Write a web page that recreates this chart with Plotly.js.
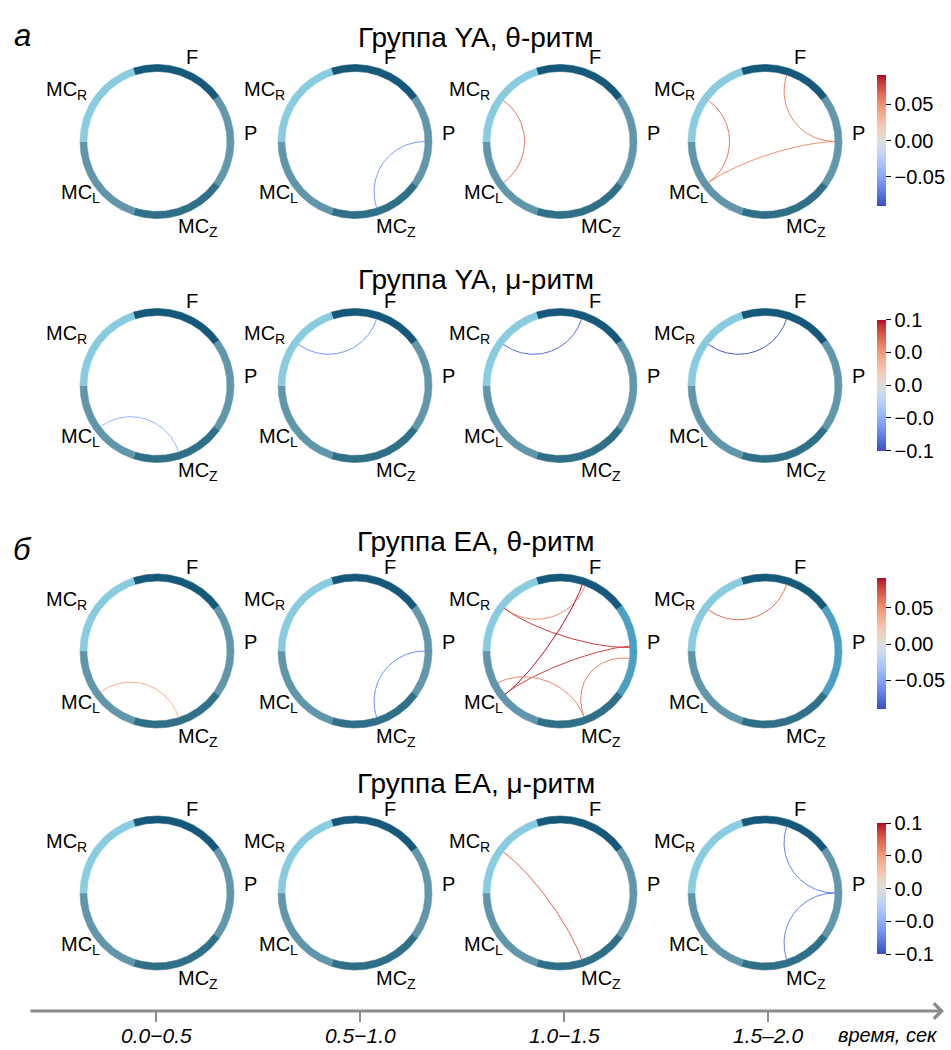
<!DOCTYPE html>
<html>
<head>
<meta charset="utf-8">
<script src="https://cdn.plot.ly/plotly-3.0.1.min.js"></script>
<style>html,body{margin:0;padding:0;background:#fff}</style>
</head>
<body>
<div id="chart" style="width:951px;height:1050px"></div>
<script>
// ---- regions on the ring (counter-clockwise order) ----
const nodes = ['F', 'P', 'MCZ', 'MCL', 'MCR'];
const nodeAngles = [72, 0, -72, -144, 144];          // centre of each region, degrees
const nodeLabels = ['F', 'P', 'MC<sub>Z</sub>', 'MC<sub>L</sub>', 'MC<sub>R</sub>'];

// ---- time windows ----
const timeBins = ['0.0−0.5', '0.5−1.0', '1.0−1.5', '1.5–2.0'];
const timeAxisTitle = 'время, сек';

// ---- rows: group × rhythm ----
const rowTitles = ['Группа YA, θ-ритм', 'Группа YA, μ-ритм', 'Группа EA, θ-ритм', 'Группа EA, μ-ритм'];
const rowLimits = [0.09, 0.1, 0.09, 0.1];
const thetaTickVals = [-0.05, 0, 0.05];
const thetaTickText = ['−0.05', '0.00', '0.05'];
const muTickVals = [-0.1, -0.05, 0, 0.05, 0.1];
const muTickText = ['−0.1', '−0.0', '0.0', '0.0', '0.1'];

// ---- connections: [from, to, value] per time window ----
const linksYaTheta = [
  [],
  [['P', 'MCZ', -0.055]],
  [['MCR', 'MCL', 0.060]],
  [['MCR', 'MCL', 0.060], ['F', 'P', 0.055], ['MCL', 'P', 0.050]]
];
const linksYaMu = [
  [['MCL', 'MCZ', -0.046]],
  [['MCR', 'F', -0.064]],
  [['MCR', 'F', -0.085]],
  [['MCR', 'F', -0.094]]
];
const linksEaTheta = [
  [['MCL', 'MCZ', 0.036]],
  [['P', 'MCZ', -0.062]],
  [['MCR', 'F', 0.050], ['MCR', 'P', 0.079], ['MCL', 'F', 0.088],
   ['MCL', 'P', 0.076], ['MCL', 'MCZ', 0.054], ['P', 'MCZ', 0.056]],
  [['MCR', 'F', 0.063]]
];
const linksEaMu = [
  [],
  [],
  [['MCR', 'MCZ', 0.074]],
  [['F', 'P', -0.075], ['P', 'MCZ', -0.075]]
];
const allLinks = [linksYaTheta, linksYaMu, linksEaTheta, linksEaMu];

// windows where region P is marked as active
const pActive = [[0, 0, 0, 0], [0, 0, 0, 0], [0, 0, 1, 1], [0, 0, 0, 0]];

// ---- styling ----
const FONT = 'Liberation Sans, Arial, sans-serif';
const regionColors = {F: '#15587a', P: '#6296aa', MCZ: '#2f6f87', MCL: '#6195a9', MCR: '#89cbdf'};
const activeColor = '#4ba0c1';
const PX = 70;                 // pixels per unit radius
const R_IN = 1.0, R_OUT = 1.1; // ring radii
const HALF = 100;              // half size of each subplot box, px
const colX = [157, 355, 560, 765];
const rowY = [141.5, 385.5, 651, 893];
const cbarY = [140.5, 385, 644, 888.5];
const titleY = [37, 280, 541, 783];
// end-point spread along the ring for crowded diagrams (degrees), same shape as links
const endSpread = [
  [[], [[0, 0]], [[0, 0]], [[0, 0], [0, 0], [0, 0]]],
  [[[0, 0]], [[0, 0]], [[0, 0]], [[0, 0]]],
  [[[0, 0]], [[0, 0]], [[-1.5, -3], [-1.5, 3], [2.5, -0.5], [2, 4], [-9, 2], [-6, 2]], [[0, 0]]],
  [[], [], [[0, 0]], [[0, 0], [0, 0]]]
];
// label placement relative to ring centre (px, y down) and anchor
const labelPlace = {
  F: [27, -84, 'left'], P: [85, -9, 'left'], MCZ: [19, 86, 'left'],
  MCL: [-55, 52, 'right'], MCR: [-68, -51, 'right']
};

// coolwarm diverging scale
const coolwarm = [
  [0, 'rgb(59,76,192)'], [0.03125, 'rgb(68,90,204)'], [0.0625, 'rgb(77,104,215)'],
  [0.09375, 'rgb(87,117,225)'], [0.125, 'rgb(98,130,234)'], [0.15625, 'rgb(108,142,241)'],
  [0.1875, 'rgb(119,154,247)'], [0.21875, 'rgb(130,165,251)'], [0.25, 'rgb(141,176,254)'],
  [0.28125, 'rgb(152,185,255)'], [0.3125, 'rgb(163,194,255)'], [0.34375, 'rgb(174,201,253)'],
  [0.375, 'rgb(184,208,249)'], [0.40625, 'rgb(194,213,244)'], [0.4375, 'rgb(204,217,238)'],
  [0.46875, 'rgb(213,219,230)'], [0.5, 'rgb(221,221,221)'], [0.53125, 'rgb(229,216,209)'],
  [0.5625, 'rgb(236,211,197)'], [0.59375, 'rgb(241,204,185)'], [0.625, 'rgb(245,196,173)'],
  [0.65625, 'rgb(247,187,160)'], [0.6875, 'rgb(247,177,148)'], [0.71875, 'rgb(247,166,135)'],
  [0.75, 'rgb(244,154,123)'], [0.78125, 'rgb(241,141,111)'], [0.8125, 'rgb(236,127,99)'],
  [0.84375, 'rgb(229,112,88)'], [0.875, 'rgb(222,96,77)'], [0.90625, 'rgb(213,80,66)'],
  [0.9375, 'rgb(203,62,56)'], [0.96875, 'rgb(192,40,47)'], [1, 'rgb(180,4,38)']
];
function parseRgb(s) { return s.match(/\d+/g).map(Number); }
function colorAt(v, lim) {
  let p = (v + lim) / (2 * lim);
  p = Math.max(0, Math.min(1, p));
  for (let i = 1; i < coolwarm.length; i++) {
    if (p <= coolwarm[i][0]) {
      const a = coolwarm[i - 1], b = coolwarm[i];
      const t = (p - a[0]) / (b[0] - a[0]);
      const ca = parseRgb(a[1]), cb = parseRgb(b[1]);
      const c = ca.map((x, k) => Math.round(x + (cb[k] - x) * t));
      return 'rgb(' + c.join(',') + ')';
    }
  }
  return coolwarm[coolwarm.length - 1][1];
}

const rad = d => d * Math.PI / 180;
const traces = [];
const layout = {
  width: 951, height: 1050,
  margin: {l: 0, r: 0, t: 0, b: 0},
  paper_bgcolor: '#ffffff', plot_bgcolor: 'rgba(0,0,0,0)',
  showlegend: false, hovermode: false,
  font: {family: FONT, color: '#000'},
  annotations: []
};

function ringSegment(angle, radIn, radOut) {
  const xs = [], ys = [];
  for (let d = angle - 36; d <= angle + 36.001; d += 1) { xs.push(radOut * Math.cos(rad(d))); ys.push(radOut * Math.sin(rad(d))); }
  for (let d = angle + 36; d >= angle - 36.001; d -= 1) { xs.push(radIn * Math.cos(rad(d))); ys.push(radIn * Math.sin(rad(d))); }
  return {xs, ys};
}

function chordPath(a0, a1) {
  // cubic Bezier from the inner ring edge, control points at half radius
  const p0 = [R_IN * Math.cos(rad(a0)), R_IN * Math.sin(rad(a0))];
  const p3 = [R_IN * Math.cos(rad(a1)), R_IN * Math.sin(rad(a1))];
  const p1 = [p0[0] * 0.5, p0[1] * 0.5], p2 = [p3[0] * 0.5, p3[1] * 0.5];
  const xs = [], ys = [];
  const N = 80;
  for (let i = 0; i <= N; i++) {
    const t = i / N, u = 1 - t;
    const b0 = u * u * u, b1 = 3 * u * u * t, b2 = 3 * u * t * t, b3 = t * t * t;
    xs.push(b0 * p0[0] + b1 * p1[0] + b2 * p2[0] + b3 * p3[0]);
    ys.push(b0 * p0[1] + b1 * p1[1] + b2 * p2[1] + b3 * p3[1]);
  }
  return {xs, ys};
}

const span = HALF / PX;
for (let r = 0; r < 4; r++) {
  for (let c = 0; c < 4; c++) {
    const idx = r * 4 + c + 1;
    const xa = 'x' + (idx === 1 ? '' : idx), ya = 'y' + (idx === 1 ? '' : idx);
    const xKey = 'xaxis' + (idx === 1 ? '' : idx), yKey = 'yaxis' + (idx === 1 ? '' : idx);
    const cx = colX[c], cy = rowY[r];
    layout[xKey] = {domain: [(cx - HALF) / 951, (cx + HALF) / 951], range: [-span, span],
      visible: false, fixedrange: true, anchor: ya};
    layout[yKey] = {domain: [1 - (cy + HALF) / 1050, 1 - (cy - HALF) / 1050], range: [-span, span],
      visible: false, fixedrange: true, anchor: xa};

    // ring
    nodes.forEach((n, k) => {
      const seg = ringSegment(nodeAngles[k], R_IN, R_OUT);
      const col = (n === 'P' && pActive[r][c]) ? activeColor : regionColors[n];
      traces.push({type: 'scatter', mode: 'lines', x: seg.xs, y: seg.ys, xaxis: xa, yaxis: ya,
        fill: 'toself', fillcolor: col, line: {width: 0.6, color: col}, hoverinfo: 'skip'});
      const lp = labelPlace[n];
      layout.annotations.push({xref: xa, yref: ya, x: lp[0] / PX, y: -lp[1] / PX,
        text: nodeLabels[k], showarrow: false, xanchor: lp[2], yanchor: 'middle',
        font: {size: 20, family: FONT, color: '#000'}});
    });

    // connections
    allLinks[r][c].forEach((lk, j) => {
      const off = endSpread[r][c][j] || [0, 0];
      const a0 = nodeAngles[nodes.indexOf(lk[0])] + off[0];
      const a1 = nodeAngles[nodes.indexOf(lk[1])] + off[1];
      const p = chordPath(a0, a1);
      traces.push({type: 'scatter', mode: 'lines', x: p.xs, y: p.ys, xaxis: xa, yaxis: ya,
        line: {width: 1, color: colorAt(lk[2], rowLimits[r])}, hoverinfo: 'skip'});
    });

    // colour bar carried by the last window of the row
    if (c === 3) {
      const isTheta = rowLimits[r] < 0.095;
      traces.push({type: 'scatter', mode: 'markers', x: [0], y: [0], xaxis: xa, yaxis: ya,
        hoverinfo: 'skip',
        marker: {size: 1, opacity: 0, color: [0], cmin: -rowLimits[r], cmax: rowLimits[r],
          colorscale: coolwarm, showscale: true,
          colorbar: {x: 877 / 951, xanchor: 'left', xpad: 0, ypad: 0, thickness: 9,
            len: 131, lenmode: 'pixels', y: 1 - cbarY[r] / 1050, yanchor: 'middle',
            outlinewidth: 0, borderwidth: 0, ticks: 'outside', ticklen: 5, tickwidth: 1,
            tickcolor: '#000',
            tickvals: isTheta ? thetaTickVals : muTickVals,
            ticktext: isTheta ? thetaTickText : muTickText,
            tickfont: {size: 20, family: FONT, color: '#000'}}}});
    }
  }
  layout.annotations.push({xref: 'paper', yref: 'paper', x: 476 / 951, y: 1 - titleY[r] / 1050,
    text: rowTitles[r], showarrow: false, xanchor: 'center', yanchor: 'middle',
    font: {size: 28, family: FONT, color: '#000'}});
}

// panel letters
[['а', 36], ['б', 549]].forEach(([t, y]) => {
  layout.annotations.push({xref: 'paper', yref: 'paper', x: 22 / 951, y: 1 - y / 1050,
    text: t, showarrow: false, xanchor: 'center', yanchor: 'middle',
    font: {size: 31, family: FONT, style: 'italic', color: '#000'}});
});

// time axis: ticks from the axis, labels just below them
const AX_Y = 1011;
const LABEL_Y = 1035;
layout.xaxis17 = {domain: [0, 1], range: [(0 - 156) / 204, (951 - 156) / 204], anchor: 'y17',
  showline: false, showgrid: false, zeroline: false, ticks: 'outside', ticklen: 10,
  tickwidth: 2, tickcolor: '#8c8c8c', tickvals: [0, 1, 2, 3], showticklabels: false,
  fixedrange: true};
layout.yaxis17 = {domain: [1 - AX_Y / 1050, 1 - AX_Y / 1050 + 0.01], visible: false,
  range: [0, 1], fixedrange: true, anchor: 'x17'};
traces.push({type: 'scatter', mode: 'markers', x: [0], y: [2], xaxis: 'x17', yaxis: 'y17',
  marker: {opacity: 0}, hoverinfo: 'skip'});
timeBins.forEach((t, i) => {
  layout.annotations.push({xref: 'x17', yref: 'paper', x: i, y: 1 - LABEL_Y / 1050,
    text: t, showarrow: false, xanchor: 'center', yanchor: 'middle',
    font: {size: 21, family: FONT, style: 'italic', color: '#000'}});
});
layout.annotations.push({xref: 'paper', yref: 'paper', x: 944 / 951, y: 1 - AX_Y / 1050,
  ax: -915, ay: 0, axref: 'pixel', ayref: 'pixel', text: '', showarrow: true,
  arrowhead: 4, arrowsize: 1, arrowwidth: 3, arrowcolor: '#8c8c8c', standoff: 0});
layout.annotations.push({xref: 'paper', yref: 'paper', x: 940 / 951, y: 1 - LABEL_Y / 1050,
  text: timeAxisTitle, showarrow: false, xanchor: 'right', yanchor: 'middle',
  font: {size: 20, family: FONT, style: 'italic', color: '#000'}});

Plotly.newPlot('chart', traces, layout, {staticPlot: true, displayModeBar: false});
</script>
</body>
</html>
